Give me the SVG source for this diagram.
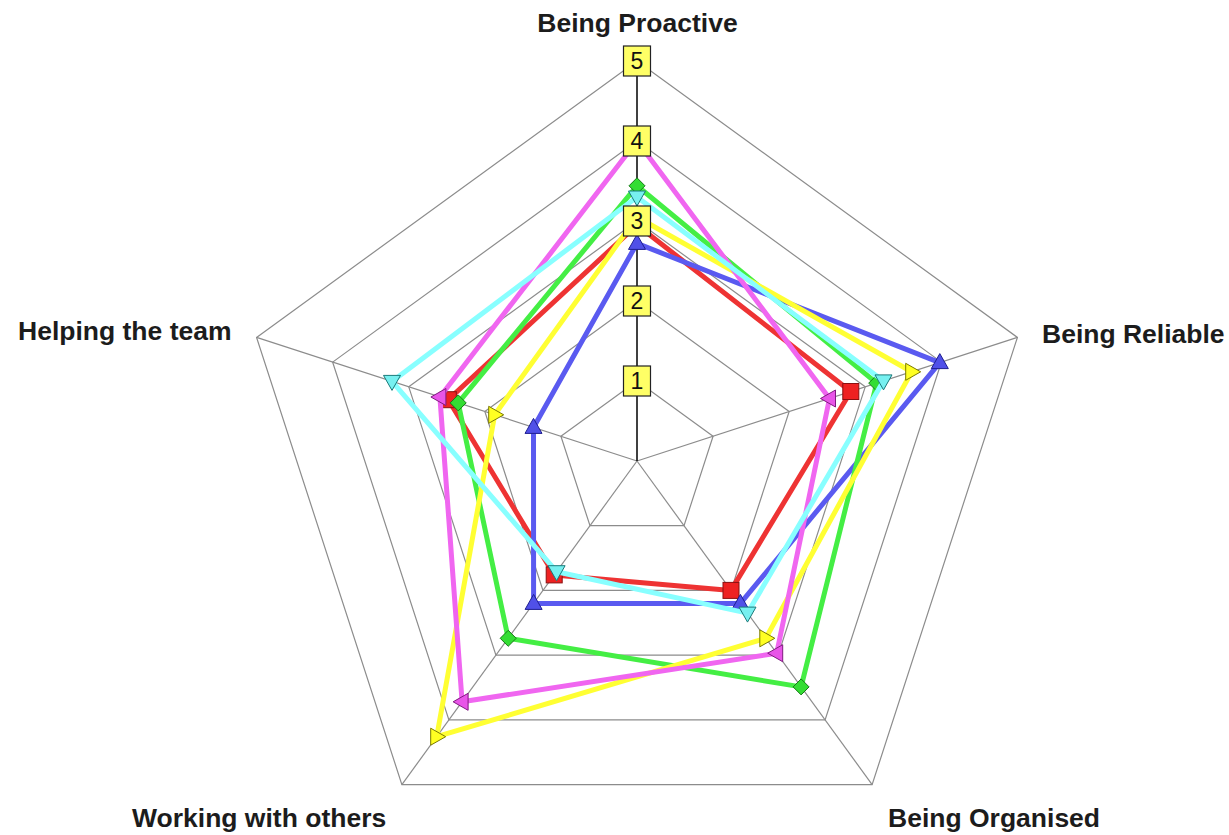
<svg xmlns="http://www.w3.org/2000/svg" xmlns:xlink="http://www.w3.org/1999/xlink" width="1229" height="835" viewBox="0 0 1229 835">
<style>
.grid{fill:none;stroke:#8c8c8c;stroke-width:1.2}
.spoke{stroke:#8c8c8c;stroke-width:1.2}
.axis{stroke:#000;stroke-width:1.5}
.lbl{font-family:"Liberation Sans",Arial,sans-serif;font-weight:bold;font-size:26.5px;fill:#1c1c1c}
.box{fill:#ffff66;stroke:#222;stroke-width:1.2}
.num{font-family:"Liberation Sans",Arial,sans-serif;font-size:23px;fill:#111;text-anchor:middle}
.ser{fill:none;stroke-width:5;stroke-linejoin:round}
</style>
<defs>
<rect id="sq" x="-8" y="-8" width="16" height="16"/>
<polygon id="tu" points="0,-9 8.5,6 -8.5,6"/>
<polygon id="td" points="0,9 8.5,-6 -8.5,-6"/>
<polygon id="tr" points="9,0 -6,-8.5 -6,8.5"/>
<polygon id="tl" points="-9,0 6,-8.5 6,8.5"/>
<polygon id="dm" points="0,-8 8,0 0,8 -8,0"/>
</defs>
<rect width="1229" height="835" fill="#fff"/>
<g id="grid">
<polygon class="grid" points="637,381 713.08,436.28 684.02,525.72 589.98,525.72 560.92,436.28"/>
<polygon class="grid" points="637,301 789.17,411.56 731.05,590.44 542.95,590.44 484.83,411.56"/>
<polygon class="grid" points="637,221 865.25,386.84 778.07,655.16 495.93,655.16 408.75,386.84"/>
<polygon class="grid" points="637,141 941.34,362.11 825.09,719.89 448.91,719.89 332.66,362.11"/>
<polygon class="grid" points="637,61 1017.42,337.39 872.12,784.61 401.88,784.61 256.58,337.39"/>
<line class="spoke" x1="637" y1="461" x2="1017.42" y2="337.39"/>
<line class="spoke" x1="637" y1="461" x2="872.12" y2="784.61"/>
<line class="spoke" x1="637" y1="461" x2="401.88" y2="784.61"/>
<line class="spoke" x1="637" y1="461" x2="256.58" y2="337.39"/>
<line class="axis" x1="637" y1="461" x2="637" y2="61"/>
</g>
<g id="connectors">
<g id="series-red">
<polygon class="ser" stroke="#ee3333" points="637,225 850.8,391.5 731,590.4 554.2,574.9 448.3,399.7"/>
<g fill="#ee2222" stroke="#8a1010" stroke-width="1">
<use xlink:href="#sq" x="637" y="225"/><use xlink:href="#sq" x="850.8" y="391.5"/><use xlink:href="#sq" x="731" y="590.4"/><use xlink:href="#sq" x="554.2" y="574.9"/><use xlink:href="#sq" x="448.3" y="399.7"/>
</g>
</g>
<g id="series-blue">
<polygon class="ser" stroke="#5a5af0" points="637,243.4 939.8,362.6 740.4,603.4 533.6,603.4 533.5,427.4"/>
<g fill="#5050e8" stroke="#1e1e90" stroke-width="1">
<use xlink:href="#tu" x="637" y="243.4"/><use xlink:href="#tu" x="939.8" y="362.6"/><use xlink:href="#tu" x="740.4" y="603.4"/><use xlink:href="#tu" x="533.6" y="603.4"/><use xlink:href="#tu" x="533.5" y="427.4"/>
</g>
</g>
<g id="series-green">
<polygon class="ser" stroke="#44ee44" points="637,185.8 876.7,383.1 801.1,686.9 508.2,638.3 458.2,402.9"/>
<g fill="#33dd33" stroke="#157a15" stroke-width="1">
<use xlink:href="#dm" x="637" y="185.8"/><use xlink:href="#dm" x="876.7" y="383.1"/><use xlink:href="#dm" x="801.1" y="686.9"/><use xlink:href="#dm" x="508.2" y="638.3"/><use xlink:href="#dm" x="458.2" y="402.9"/>
</g>
</g>
<g id="series-yellow">
<polygon class="ser" stroke="#ffff33" points="637,217 911.7,371.8 765.8,638.3 436.7,736.7 494.7,414.8"/>
<g fill="#ffff22" stroke="#7a7a00" stroke-width="1">
<use xlink:href="#tr" x="637" y="217"/><use xlink:href="#tr" x="911.7" y="371.8"/><use xlink:href="#tr" x="765.8" y="638.3"/><use xlink:href="#tr" x="436.7" y="736.7"/><use xlink:href="#tr" x="494.7" y="414.8"/>
</g>
</g>
<g id="series-magenta">
<polygon class="ser" stroke="#f066f0" points="637,141 829.5,398.5 776.7,653.2 462.1,701.8 439.9,397"/>
<g fill="#e855e8" stroke="#801a80" stroke-width="1">
<use xlink:href="#tl" x="637" y="141"/><use xlink:href="#tl" x="829.5" y="398.5"/><use xlink:href="#tl" x="776.7" y="653.2"/><use xlink:href="#tl" x="462.1" y="701.8"/><use xlink:href="#tl" x="439.9" y="397"/>
</g>
</g>
<g id="series-cyan">
<polygon class="ser" stroke="#88ffff" points="637,197 883.5,380.9 747.5,613.1 556.6,571.7 392,381.4"/>
<g fill="#77f0f0" stroke="#1a7a7a" stroke-width="1">
<use xlink:href="#td" x="637" y="197"/><use xlink:href="#td" x="883.5" y="380.9"/><use xlink:href="#td" x="747.5" y="613.1"/><use xlink:href="#td" x="556.6" y="571.7"/><use xlink:href="#td" x="392" y="381.4"/>
</g>
</g>
</g>
<g id="scale">
<g id="tick-1"><rect class="box" x="623.5" y="366" width="27" height="30"/><text class="num" x="637" y="389">1</text></g>
<g id="tick-2"><rect class="box" x="623.5" y="286" width="27" height="30"/><text class="num" x="637" y="309">2</text></g>
<g id="tick-3"><rect class="box" x="623.5" y="206" width="27" height="30"/><text class="num" x="637" y="229">3</text></g>
<g id="tick-4"><rect class="box" x="623.5" y="126" width="27" height="30"/><text class="num" x="637" y="149">4</text></g>
<g id="tick-5"><rect class="box" x="623.5" y="46" width="27" height="30"/><text class="num" x="637" y="69">5</text></g>
</g>
<g id="label-proactive"><text class="lbl" x="637.5" y="32" text-anchor="middle">Being Proactive</text></g>
<g id="label-reliable"><text class="lbl" x="1042" y="343">Being Reliable</text></g>
<g id="label-organised"><text class="lbl" x="888" y="827">Being Organised</text></g>
<g id="label-working"><text class="lbl" x="132" y="827">Working with others</text></g>
<g id="label-helping"><text class="lbl" x="18" y="340">Helping the team</text></g>
</svg>
